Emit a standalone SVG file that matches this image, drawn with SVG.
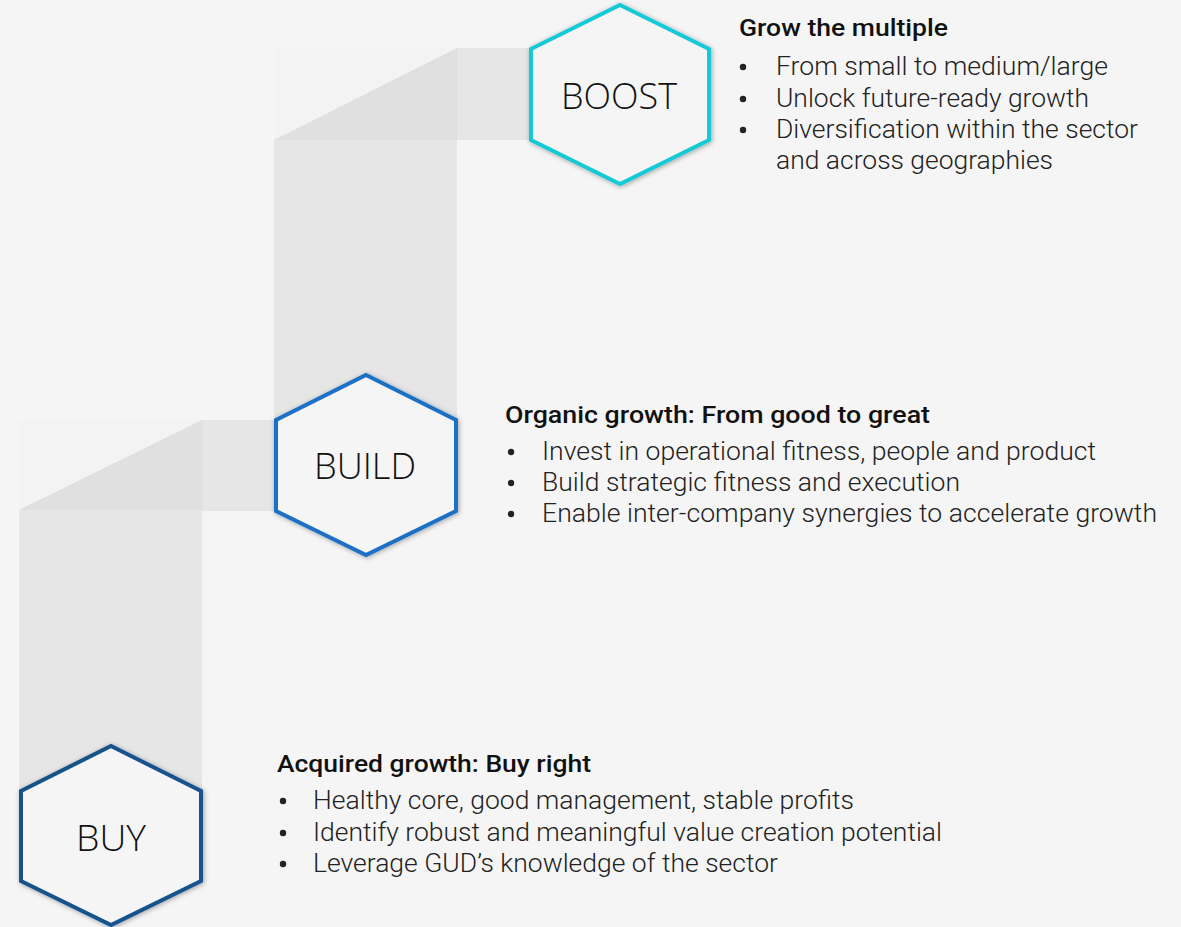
<svg xmlns="http://www.w3.org/2000/svg" width="1181" height="927" viewBox="0 0 1181 927">
  <style>
    .bg { fill: #f5f5f5; }
    .faint { fill: #f3f3f3; }
    .tri { fill: #e0e0e0; }
    .band { fill: #e6e6e6; }
    .hex { fill: #f5f5f5; stroke-width: 4; stroke-linejoin: miter; filter: url(#sh); }
    .lbl { font-family: "Open Sans", "Noto Sans", "DejaVu Sans", sans-serif; font-size: 37px; font-weight: 300; fill: #111; text-anchor: middle; }
    .ttl { font-family: Roboto, "Liberation Sans", sans-serif; font-size: 24px; font-weight: 500; fill: #111; }
    .txt { font-family: Roboto, "Liberation Sans", sans-serif; font-size: 26px; font-weight: 300; fill: #222; }
    .dot { fill: #222; }
  </style>
  <defs>
    <filter id="sh" x="-20%" y="-20%" width="140%" height="140%">
      <feDropShadow dx="1" dy="1" stdDeviation="2.5" flood-color="#000" flood-opacity="0.35"/>
    </filter>
  </defs>
  <rect class="bg" x="0" y="0" width="1181" height="927"/>

  <g id="connectors">
    <!-- BUY to BUILD band -->
    <rect class="faint" x="19" y="420" width="183" height="90"/>
    <polygon class="tri" points="19,510 202,420 202,510"/>
    <rect class="band" x="202" y="420" width="76" height="91"/>
    <rect class="band" x="19" y="510" width="183" height="371"/>
    <!-- BUILD to BOOST band -->
    <rect class="faint" x="274" y="48" width="183" height="92"/>
    <polygon class="tri" points="274,140 457,48 457,140"/>
    <rect class="band" x="457" y="48" width="76" height="92"/>
    <rect class="band" x="274" y="140" width="183" height="371"/>
  </g>

  <g id="node-boost">
    <polygon class="hex" stroke="#19c9d6" points="620,5 709,49 709,140 620,184 531,140 531,49"/>
    <text class="lbl" x="619" y="109" textLength="116" lengthAdjust="spacingAndGlyphs">BOOST</text>
  </g>
  <g id="node-build">
    <polygon class="hex" stroke="#1b6fc6" points="366,375 456,420 456,511 366,555 276,511 276,420"/>
    <text class="lbl" x="365" y="479" textLength="102" lengthAdjust="spacingAndGlyphs">BUILD</text>
  </g>
  <g id="node-buy">
    <polygon class="hex" stroke="#15528c" points="111,746 201,791 201,881 111,925 21,881 21,791"/>
    <text class="lbl" x="111" y="851" textLength="70" lengthAdjust="spacingAndGlyphs">BUY</text>
  </g>

  <g id="text-boost">
    <text class="ttl" x="739" y="36" textLength="209" lengthAdjust="spacingAndGlyphs">Grow the multiple</text>
    <circle class="dot" cx="743" cy="67" r="3.2"/>
    <circle class="dot" cx="743" cy="99" r="3.2"/>
    <circle class="dot" cx="743" cy="130" r="3.2"/>
    <text class="txt" x="776" y="75" textLength="332" lengthAdjust="spacingAndGlyphs">From small to medium/large</text>
    <text class="txt" x="776" y="107" textLength="313" lengthAdjust="spacingAndGlyphs">Unlock future-ready growth</text>
    <text class="txt" x="776" y="138" textLength="362" lengthAdjust="spacingAndGlyphs">Diversification within the sector</text>
    <text class="txt" x="776" y="169" textLength="277" lengthAdjust="spacingAndGlyphs">and across geographies</text>
  </g>

  <g id="text-build">
    <text class="ttl" x="505" y="423" textLength="425" lengthAdjust="spacingAndGlyphs">Organic growth: From good to great</text>
    <circle class="dot" cx="511" cy="452" r="3.2"/>
    <circle class="dot" cx="511" cy="483" r="3.2"/>
    <circle class="dot" cx="511" cy="514" r="3.2"/>
    <text class="txt" x="542" y="460" textLength="554" lengthAdjust="spacingAndGlyphs">Invest in operational fitness, people and product</text>
    <text class="txt" x="542" y="491" textLength="418" lengthAdjust="spacingAndGlyphs">Build strategic fitness and execution</text>
    <text class="txt" x="542" y="522" textLength="615" lengthAdjust="spacingAndGlyphs">Enable inter-company synergies to accelerate growth</text>
  </g>

  <g id="text-buy">
    <text class="ttl" x="277" y="772" textLength="314" lengthAdjust="spacingAndGlyphs">Acquired growth: Buy right</text>
    <circle class="dot" cx="283" cy="801" r="3.2"/>
    <circle class="dot" cx="283" cy="833" r="3.2"/>
    <circle class="dot" cx="283" cy="864" r="3.2"/>
    <text class="txt" x="313" y="809" textLength="541" lengthAdjust="spacingAndGlyphs">Healthy core, good management, stable profits</text>
    <text class="txt" x="313" y="841" textLength="629" lengthAdjust="spacingAndGlyphs">Identify robust and meaningful value creation potential</text>
    <text class="txt" x="313" y="872" textLength="465" lengthAdjust="spacingAndGlyphs">Leverage GUD’s knowledge of the sector</text>
  </g>
</svg>
